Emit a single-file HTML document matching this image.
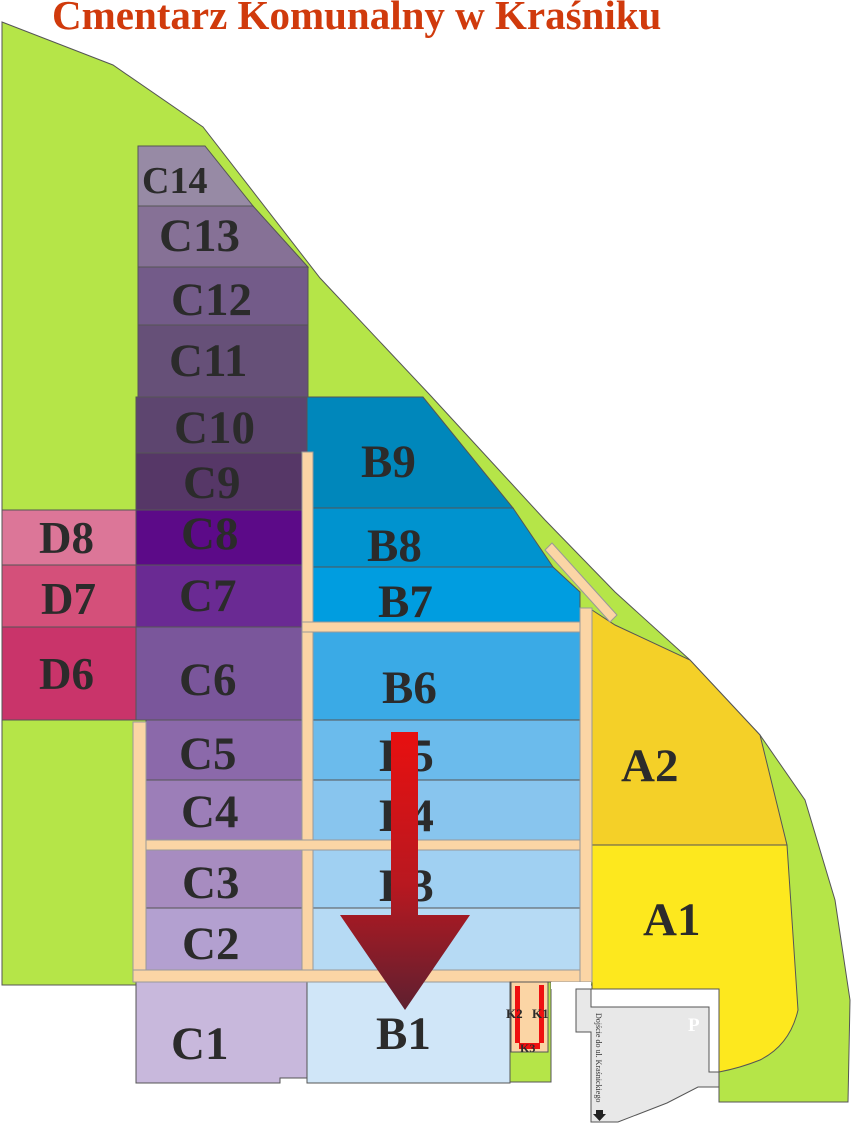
<!DOCTYPE html>
<html><head><meta charset="utf-8"><style>
html,body{margin:0;padding:0;background:#fff;width:852px;height:1123px;overflow:hidden}
svg{display:block}
.l{font-family:"Liberation Serif",serif;font-weight:bold;fill:#2b2b2b}
</style></head><body>
<svg width="852" height="1123" viewBox="0 0 852 1123" xmlns="http://www.w3.org/2000/svg">
<defs><linearGradient id="ag" x1="0" y1="0" x2="0" y2="1"><stop offset="0" stop-color="#e81010"/><stop offset="0.55" stop-color="#b81820"/><stop offset="1" stop-color="#5e2030"/></linearGradient></defs>
<text x="52" y="29" font-family="Liberation Serif,serif" font-weight="bold" font-size="41" fill="#d03a0c">Cmentarz Komunalny w Kraśniku</text>
<g stroke="#555" stroke-width="1">
<polygon fill="#b5e548" points="2,22 113,65 203,127 320,278 430,395 545,520 615,592 690,660 760,735 805,800 835,900 850,1000 848,1102 719,1102 719,985 133,985 2,985"/>
<polygon fill="#978aa5" points="138,146 205,146 253,206 138,206"/>
<polygon fill="#867196" points="138,206 253,206 308,267 138,267"/>
<rect fill="#735b89" x="138" y="267" width="170" height="58"/>
<rect fill="#665078" x="138" y="325" width="170" height="72"/>
<rect fill="#5d456f" x="136" y="397" width="172" height="56"/>
<rect fill="#563767" x="136" y="453" width="172" height="57"/>
<rect fill="#5c0a88" x="136" y="510" width="172" height="55"/>
<rect fill="#6a2a93" x="136" y="565" width="172" height="62"/>
<rect fill="#7a569b" x="136" y="627" width="172" height="93"/>
<rect fill="#8b69aa" x="146" y="720" width="158" height="60"/>
<rect fill="#9c7eb8" x="146" y="780" width="158" height="62"/>
<rect fill="#a78cc0" x="146" y="850" width="156" height="58"/>
<rect fill="#b3a0d0" x="146" y="908" width="156" height="62"/>
<polygon fill="#c8b8dc" points="136,982 307,982 307,1078 280,1078 280,1083 136,1083"/>
<rect fill="#dc7698" x="2" y="510" width="134" height="55"/>
<rect fill="#d4507a" x="2" y="565" width="134" height="62"/>
<rect fill="#c9346a" x="2" y="627" width="134" height="93"/>
<polygon fill="#0087bb" points="307,397 423,397 513,508 307,508"/>
<polygon fill="#0093cf" points="307,508 513,508 553,567 307,567"/>
<polygon fill="#009de0" points="307,567 553,567 580,592 580,622 307,622"/>
<rect fill="#3aaae6" x="313" y="632" width="267" height="88"/>
<rect fill="#6bbbec" x="313" y="720" width="267" height="60"/>
<rect fill="#88c5ee" x="313" y="780" width="267" height="60"/>
<rect fill="#a0d0f2" x="313" y="850" width="267" height="58"/>
<rect fill="#b6daf4" x="313" y="908" width="267" height="62"/>
<rect fill="#d0e6f8" x="307" y="982" width="203" height="101"/>
<polygon fill="#f4d028" points="592,610 615,625 690,660 760,735 787,845 592,845"/>
<path fill="#fde81e" d="M592,845 L787,845 L798,1010 Q790,1045 760,1060 Q740,1068 719,1072 L719,989 L592,989 Z"/>
<g fill="#fbd5a5" stroke="#999">
<rect x="302" y="452" width="11" height="530"/>
<rect x="302" y="622" width="290" height="10"/>
<rect x="146" y="840" width="446" height="10"/>
<rect x="133" y="722" width="13" height="260"/>
<rect x="133" y="970" width="459" height="12"/>
<rect x="580" y="608" width="12" height="374"/>
<polygon points="545,550 552,543 617,615 610,622"/>
</g>
<rect fill="#b5e548" x="510" y="982" width="41" height="100"/>
<rect fill="#fbd5a5" x="511" y="982" width="37" height="70"/>
<rect fill="#ee1010" stroke="none" x="515" y="986" width="5" height="57"/>
<rect fill="#ee1010" stroke="none" x="539" y="985" width="5" height="58"/>
<rect fill="#ee1010" stroke="none" x="519" y="1043" width="21" height="6"/>
<rect fill="#fff" stroke="none" x="551" y="982" width="40" height="7"/>
<polygon fill="#e8e8e8" points="576,989 591,989 591,1007 709,1007 709,1072 719,1072 719,1087 698,1087 667,1103 618,1122 591,1122 591,1032 576,1032"/>
<polyline fill="none" points="591,989 719,989 719,1072"/>
</g>
<text class="l" x="142" y="193" font-size="38">C14</text>
<text class="l" x="159" y="251" font-size="47">C13</text>
<text class="l" x="171" y="315" font-size="47">C12</text>
<text class="l" x="169" y="376" font-size="47">C11</text>
<text class="l" x="174" y="443" font-size="47">C10</text>
<text class="l" x="183" y="498" font-size="47">C9</text>
<text class="l" x="181" y="549" font-size="47">C8</text>
<text class="l" x="179" y="611" font-size="47">C7</text>
<text class="l" x="179" y="695" font-size="47">C6</text>
<text class="l" x="179" y="769" font-size="47">C5</text>
<text class="l" x="181" y="827" font-size="47">C4</text>
<text class="l" x="182" y="898" font-size="47">C3</text>
<text class="l" x="182" y="959" font-size="47">C2</text>
<text class="l" x="171" y="1059" font-size="47">C1</text>
<text class="l" x="39" y="553" font-size="45">D8</text>
<text class="l" x="41" y="614" font-size="45">D7</text>
<text class="l" x="39" y="689" font-size="45">D6</text>
<text class="l" x="361" y="477" font-size="47">B9</text>
<text class="l" x="367" y="561" font-size="47">B8</text>
<text class="l" x="378" y="617" font-size="47">B7</text>
<text class="l" x="382" y="703" font-size="47">B6</text>
<text class="l" x="379" y="771" font-size="47">B5</text>
<text class="l" x="379" y="831" font-size="47">B4</text>
<text class="l" x="379" y="901" font-size="47">B3</text>
<text class="l" x="376" y="1049" font-size="47">B1</text>
<text class="l" x="621" y="781" font-size="47">A2</text>
<text class="l" x="643" y="935" font-size="47">A1</text>
<text class="l" x="506" y="1018" font-size="13">K2</text>
<text class="l" x="532" y="1018" font-size="13">K1</text>
<text class="l" x="520" y="1052" font-size="12">K3</text>
<text x="688" y="1031" font-family="Liberation Serif,serif" font-weight="bold" font-size="19" fill="#fff">P</text>
<text transform="translate(596,1013) rotate(90)" font-family="Liberation Serif,serif" font-size="8" fill="#333">Dojście do ul. Kraśnickiego</text>
<polygon fill="#222" points="596,1110 603,1110 603,1114 606,1114 599.5,1121 593,1114 596,1114"/>
<polygon fill="url(#ag)" points="391,732 418,732 418,915 470,915 405,1010 340,915 391,915"/>
</svg>
</body></html>
